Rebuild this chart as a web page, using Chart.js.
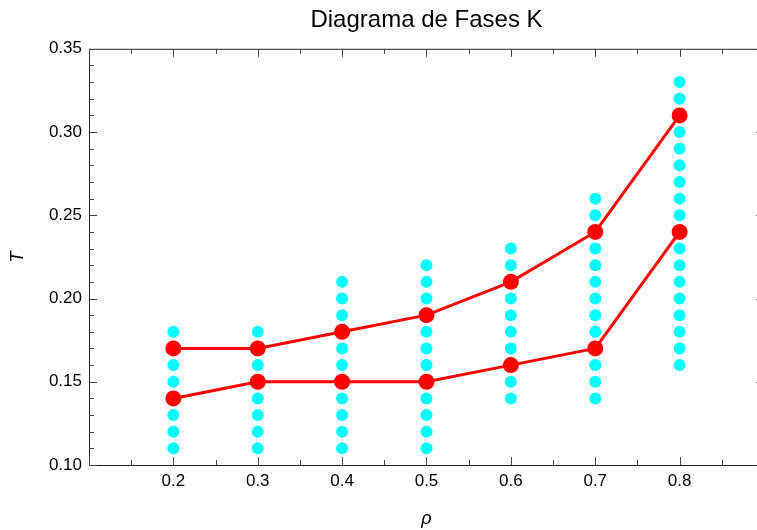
<!DOCTYPE html>
<html>
<head>
<meta charset="utf-8">
<script src="https://cdn.jsdelivr.net/npm/chart.js@4.4.0/dist/chart.umd.min.js"></script>
<style>
  html, body { margin: 0; padding: 0; background: #fff; overflow: hidden; }
  #wrap { width: 772px; height: 530px; }
</style>
</head>
<body>
<div id="wrap"><canvas id="phaseChart" width="772" height="530"></canvas></div>
<script>
// densities where the phase line was measured
const rho = [0.2, 0.3, 0.4, 0.5, 0.6, 0.7, 0.8];
// upper and lower transition temperatures
const tUpper = [0.17, 0.17, 0.18, 0.19, 0.21, 0.24, 0.31];
const tLower = [0.14, 0.15, 0.15, 0.15, 0.16, 0.17, 0.24];

// sampled temperatures for each density (cyan points)
const sampledT02 = [0.11, 0.12, 0.13, 0.14, 0.15, 0.16, 0.17, 0.18];
const sampledT03 = [0.11, 0.12, 0.13, 0.14, 0.15, 0.16, 0.17, 0.18];
const sampledT04 = [0.11, 0.12, 0.13, 0.14, 0.15, 0.16, 0.17, 0.18, 0.19, 0.20, 0.21];
const sampledT05 = [0.11, 0.12, 0.13, 0.14, 0.15, 0.16, 0.17, 0.18, 0.19, 0.20, 0.21, 0.22];
const sampledT06 = [0.14, 0.15, 0.16, 0.17, 0.18, 0.19, 0.20, 0.21, 0.22, 0.23];
const sampledT07 = [0.14, 0.15, 0.16, 0.17, 0.18, 0.19, 0.20, 0.21, 0.22, 0.23, 0.24, 0.25, 0.26];
const sampledT08 = [0.16, 0.17, 0.18, 0.19, 0.20, 0.21, 0.22, 0.23, 0.24, 0.25, 0.26, 0.27, 0.28, 0.29, 0.30, 0.31, 0.32, 0.33];
const sampledColumns = [sampledT02, sampledT03, sampledT04, sampledT05, sampledT06, sampledT07, sampledT08];

// axis ticks
const xTicks = [0.2, 0.3, 0.4, 0.5, 0.6, 0.7, 0.8];
const yTicks = [0.10, 0.15, 0.20, 0.25, 0.30, 0.35];

const sampledPoints = [];
sampledColumns.forEach((col, i) => {
  col.forEach(t => sampledPoints.push({ x: rho[i], y: t }));
});
const upperPoints = rho.map((r, i) => ({ x: r, y: tUpper[i] }));
const lowerPoints = rho.map((r, i) => ({ x: r, y: tLower[i] }));

const FONT = "Liberation Sans, Arial, sans-serif";

// frame with inward ticks on all four sides
const framePlugin = {
  id: "frame",
  afterDatasetsDraw(chart) {
    const { ctx, chartArea: a, scales } = chart;
    const xs = scales.x, ys = scales.y;
    ctx.save();
    ctx.strokeStyle = "#222";
    ctx.lineWidth = 1;
    ctx.strokeRect(a.left + 0.5, a.top + 0.5, a.right - a.left, a.bottom - a.top);
    ctx.strokeStyle = "#444";
    for (let v = 0.10; v <= 0.3501; v += 0.01) {
      const major = Math.abs(v * 20 - Math.round(v * 20)) < 1e-6;
      const len = major ? 8 : 5;
      const py = Math.round(ys.getPixelForValue(v)) + 0.5;
      ctx.beginPath();
      ctx.moveTo(a.left, py); ctx.lineTo(a.left + len, py);
      ctx.moveTo(a.right, py); ctx.lineTo(a.right - len, py);
      ctx.stroke();
    }
    for (let v = 0.10; v <= 0.9001; v += 0.05) {
      const major = Math.abs(v * 10 - Math.round(v * 10)) < 1e-6;
      const len = major ? 8 : 5;
      const px = Math.round(xs.getPixelForValue(v)) + 0.5;
      ctx.beginPath();
      ctx.moveTo(px, a.bottom); ctx.lineTo(px, a.bottom - len);
      ctx.moveTo(px, a.top); ctx.lineTo(px, a.top + len);
      ctx.stroke();
    }
    ctx.restore();
  }
};

new Chart(document.getElementById("phaseChart"), {
  type: "scatter",
  data: {
    datasets: [
      {
        label: "muestras",
        data: sampledPoints,
        backgroundColor: "#00ffff",
        borderWidth: 0,
        pointRadius: 6,
        showLine: false,
        order: 3
      },
      {
        label: "T superior",
        data: upperPoints,
        showLine: true,
        borderColor: "#ff0000",
        backgroundColor: "#ff0000",
        borderWidth: 3,
        pointRadius: 8,
        pointBorderWidth: 0,
        order: 1
      },
      {
        label: "T inferior",
        data: lowerPoints,
        showLine: true,
        borderColor: "#ff0000",
        backgroundColor: "#ff0000",
        borderWidth: 3,
        pointRadius: 8,
        pointBorderWidth: 0,
        order: 2
      }
    ]
  },
  options: {
    responsive: false,
    animation: false,
    layout: { padding: { left: 0, right: 2, top: 0, bottom: 0 } },
    plugins: {
      legend: { display: false },
      tooltip: { enabled: false },
      title: {
        display: true,
        text: "Diagrama de Fases K",
        fullSize: false,
        color: "#000",
        font: { family: FONT, size: 24, weight: "normal" },
        padding: { top: 6, bottom: 14 }
      }
    },
    scales: {
      x: {
        type: "linear",
        min: 0.1,
        max: 0.9,
        afterBuildTicks: s => { s.ticks = xTicks.map(v => ({ value: v })); },
        afterFit: s => { s.height = 65; },
        grid: { display: false, drawTicks: false },
        border: { display: false },
        ticks: {
          color: "#000",
          padding: 6,
          font: { family: FONT, size: 17 },
          callback: v => v.toFixed(1)
        },
        title: {
          display: true,
          text: "ρ",
          color: "#000",
          font: { family: FONT, size: 18, style: "italic" },
          padding: { top: 12, bottom: 0 }
        }
      },
      y: {
        type: "linear",
        min: 0.1,
        max: 0.35,
        afterBuildTicks: s => { s.ticks = yTicks.map(v => ({ value: v })); },
        afterFit: s => { s.width = 89; },
        grid: { display: false, drawTicks: false },
        border: { display: false },
        ticks: {
          color: "#000",
          padding: 7,
          font: { family: FONT, size: 17 },
          callback: v => v.toFixed(2)
        },
        title: {
          display: true,
          text: "T",
          color: "#000",
          font: { family: FONT, size: 18, style: "italic" },
          padding: { top: 7, bottom: 0 }
        }
      }
    }
  },
  plugins: [framePlugin]
});
</script>
</body>
</html>
